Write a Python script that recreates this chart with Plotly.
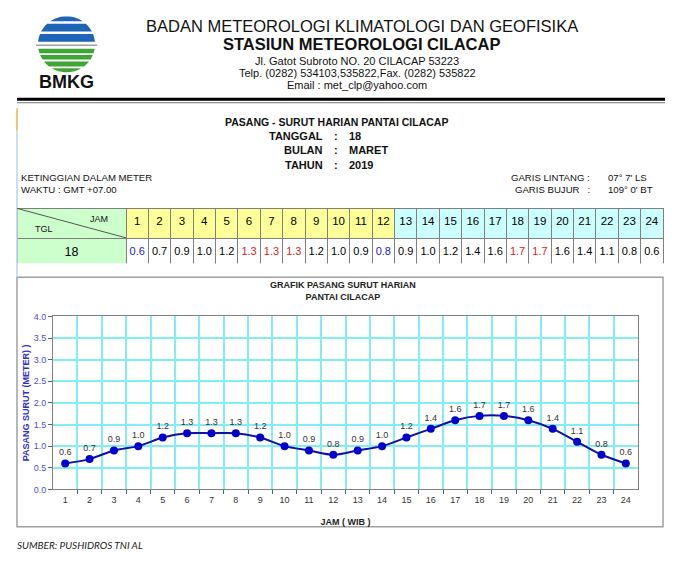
import numpy as np
import plotly.graph_objects as go

W, H = 680, 571

# ---------------- data ----------------
hours = list(range(1, 25))
tide = [0.6, 0.7, 0.9, 1.0, 1.2, 1.3, 1.3, 1.3, 1.2, 1.0, 0.9, 0.8,
        0.9, 1.0, 1.2, 1.4, 1.6, 1.7, 1.7, 1.6, 1.4, 1.1, 0.8, 0.6]
low_hours = [1, 12]
high_hours = [6, 7, 8, 18, 19]
date_label = "18"
month_label = "MARET"
year_label = "2019"
y_ticks = [0.0, 0.5, 1.0, 1.5, 2.0, 2.5, 3.0, 3.5, 4.0]

header_lines = ["BADAN METEOROLOGI KLIMATOLOGI DAN GEOFISIKA",
                "STASIUN METEOROLOGI CILACAP",
                "Jl. Gatot Subroto NO. 20 CILACAP 53223",
                "Telp. (0282) 534103,535822,Fax. (0282) 535822",
                "Email : met_clp@yahoo.com"]

ARIAL = "Liberation Sans, Arial"


def X(px):
    return px / W


def Y(py):
    return 1 - py / H


fig = go.Figure()

# ---------------- table ----------------
header_vals = [""] + [str(h) for h in hours]
cell_vals = [[date_label]] + [[f"{v:.1f}"] for v in tide]
header_fill = ["#ccffcc"] + ["#ffff99"] * 12 + ["#ccffff"] * 12
cell_fill = ["#ccffcc"] + ["#ffffff"] * 24
val_colors = ["#000000"]
for h in hours:
    if h in low_hours:
        val_colors.append("#2020e0")
    elif h in high_hours:
        val_colors.append("#e02020")
    else:
        val_colors.append("#000000")

fig.add_trace(go.Table(
    domain=dict(x=[X(17), X(663)], y=[Y(263), Y(207)]),
    columnwidth=[109] + [22.375] * 24,
    header=dict(values=header_vals, fill_color=header_fill, line_color="#7f7f7f",
                height=30, align="center",
                font=dict(family=ARIAL, size=11.5, color="#000000")),
    cells=dict(values=cell_vals, fill_color=cell_fill, line_color="#7f7f7f",
               height=26, align="center",
               font=dict(family=ARIAL, size=[12.5] + [11] * 24, color=val_colors)),
))

# ---------------- chart ----------------
fig.add_trace(go.Scatter(
    x=hours, y=tide, xaxis="x", yaxis="y", mode="markers",
    marker=dict(opacity=0), hoverinfo="skip", showlegend=False))
fig.add_trace(go.Scatter(
    x=hours, y=tide, xaxis="x2", yaxis="y",
    mode="lines+markers+text",
    line=dict(color="#1010a0", width=2, shape="spline", smoothing=0.8),
    marker=dict(color="#0000d0", size=8),
    text=[f"{v:.1f}" for v in tide], textposition="top center",
    textfont=dict(family=ARIAL, size=9, color="#333333"),
    showlegend=False))

grid_pos = [h + 0.5 for h in hours[:-1]]

fig.update_layout(
    width=W, height=H,
    margin=dict(l=0, r=0, t=0, b=0),
    paper_bgcolor="white", plot_bgcolor="white",
    showlegend=False,
    xaxis=dict(domain=[X(53), X(638)], range=[0.5, 24.5],
               tickmode="array", tickvals=grid_pos, showticklabels=False,
               ticks="outside", ticklen=4, tickcolor="#606060",
               showgrid=True, gridcolor="#80eef4", gridwidth=1.5,
               showline=True, linecolor="#808080", linewidth=1, mirror=True,
               zeroline=False, anchor="y"),
    xaxis2=dict(overlaying="x", range=[0.5, 24.5], anchor="y",
                tickmode="array", tickvals=hours, ticktext=[str(h) for h in hours],
                ticks="", showgrid=False, zeroline=False, showline=False,
                ticklabelstandoff=4,
                tickfont=dict(family=ARIAL, size=9, color="#333333"),
                title=dict(text="<b>JAM ( WIB )</b>", standoff=14,
                           font=dict(family=ARIAL, size=9, color="#222222"))),
    yaxis=dict(domain=[Y(493), Y(317)], range=[0, 4],
               tickmode="array", tickvals=y_ticks, tickformat=".1f",
               ticks="outside", ticklen=4, tickcolor="#606060",
               tickfont=dict(family=ARIAL, size=9, color="#5050d0"),
               showgrid=True, gridcolor="#80eef4", gridwidth=1.5,
               showline=True, linecolor="#808080", linewidth=1, mirror=True,
               zeroline=False,
               title=dict(text="<b>PASANG SURUT (METER) )</b>", standoff=2,
                          font=dict(family=ARIAL, size=9, color="#3030c8"))),
)

shapes = []
ann = []


def text(t, x, y, size, xa="center", color="#111111", family=ARIAL):
    ann.append(dict(text=t, x=X(x), y=Y(y), xref="paper", yref="paper",
                    xanchor=xa, yanchor="middle", showarrow=False,
                    font=dict(family=family, size=size, color=color)))


# ---------------- logo ----------------
cx, cy, R = 66.5, 40.0, 28.5


def band(y0, y1, color):
    ys = np.linspace(y0, y1, 12)
    left = [(cx - np.sqrt(max(R**2 - (yy - cy)**2, 0)), yy) for yy in ys]
    right = [(cx + np.sqrt(max(R**2 - (yy - cy)**2, 0)), yy) for yy in ys[::-1]]
    pts = left + right
    d = "M " + " L ".join(f"{X(a):.5f},{Y(b):.5f}" for a, b in pts) + " Z"
    shapes.append(dict(type="path", path=d, xref="paper", yref="paper",
                       fillcolor=color, line=dict(width=0), layer="above"))


for (a, b) in [(11.6, 16.5), (19, 27), (29.5, 37.5)]:
    band(a, b, "#1e64b8")
for (a, b) in [(44.5, 49), (51, 55.5), (57.5, 62.5), (64.5, 68.4)]:
    band(a, b, "#3fa535")
shapes.append(dict(type="line", xref="paper", yref="paper", x0=X(36), x1=X(97),
                   y0=Y(41), y1=Y(41), line=dict(color="#a0a0a0", width=1.5)))
text("<b>BMKG</b>", 66, 78, 18)

# ---------------- header text ----------------
text(header_lines[0], 362, 21, 16.5)
text("<b>" + header_lines[1] + "</b>", 361, 40, 16.5)
for t, yy in zip(header_lines[2:], [57, 69.5, 81.5]):
    text(t, 357, yy, 11)

shapes.append(dict(type="line", xref="paper", yref="paper", x0=X(17), x1=X(665),
                   y0=Y(96), y1=Y(96), line=dict(color="#000000", width=3)))
shapes.append(dict(type="line", xref="paper", yref="paper", x0=X(17), x1=X(665),
                   y0=Y(99.5), y1=Y(99.5), line=dict(color="#777777", width=1)))

# left margin line
shapes.append(dict(type="line", xref="paper", yref="paper", x0=X(17), x1=X(17),
                   y0=Y(105), y1=Y(128), line=dict(color="#f0b050", width=1.5)))
shapes.append(dict(type="line", xref="paper", yref="paper", x0=X(17), x1=X(17),
                   y0=Y(128), y1=Y(277), line=dict(color="#b8d4f0", width=1.5)))

# ---------------- subtitle block ----------------
text("<b>PASANG - SURUT HARIAN PANTAI CILACAP</b>", 336, 119.5, 10.5)
for lab, val, yy in [("TANGGAL", date_label, 133.5), ("BULAN", month_label, 148),
                     ("TAHUN", year_label, 162.5)]:
    text(f"<b>{lab}</b>", 325, yy, 11, xa="right")
    text("<b>:</b>", 336, yy, 11)
    text(f"<b>{val}</b>", 347, yy, 11, xa="left")

text("KETINGGIAN DALAM METER", 19, 176, 9.6, xa="left")
text("WAKTU : GMT +07.00", 19, 188, 9.6, xa="left")
text("GARIS LINTANG :", 592, 176, 9.6, xa="right")
text("GARIS BUJUR   :", 592, 188, 9.6, xa="right")
text("07° 7' LS", 606, 176, 9.6, xa="left")
text("109° 0' BT", 606, 188, 9.6, xa="left")

# table header cell diagonal
shapes.append(dict(type="line", xref="paper", yref="paper", x0=X(17), x1=X(126),
                   y0=Y(207), y1=Y(237), line=dict(color="#555555", width=1)))
text("JAM", 99, 218, 9)
text("TGL", 44, 228.5, 9)

# chart frame and title
shapes.append(dict(type="rect", xref="paper", yref="paper", x0=X(17), x1=X(663),
                   y0=Y(531), y1=Y(277), line=dict(color="#a0a0a0", width=1.5),
                   layer="below"))
text("<b>GRAFIK PASANG SURUT HARIAN<br>PANTAI CILACAP</b>", 343, 291, 9, color="#222222")

text("<i>SUMBER: PUSHIDROS TNI AL</i>", 15, 550, 10, xa="left", color="#222222",
     family="Lato, Liberation Sans")

fig.update_layout(shapes=shapes, annotations=ann)
fig.write_html("out.html", config={"displayModeBar": False},
               post_script="document.body.style.margin='0px';")
